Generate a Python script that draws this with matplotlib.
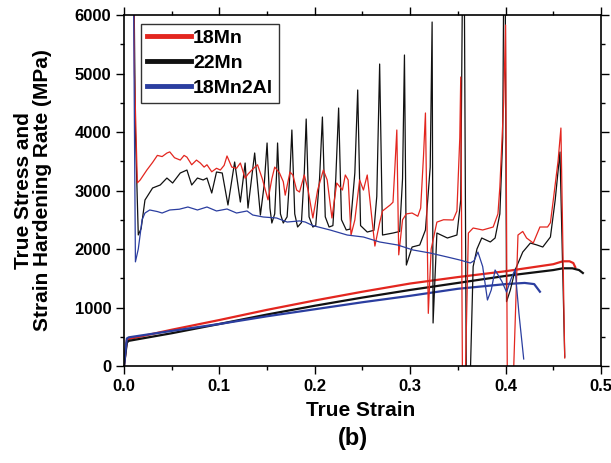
import matplotlib
matplotlib.use("Agg")
import matplotlib.pyplot as plt
from matplotlib.lines import Line2D
from matplotlib.ticker import MultipleLocator

plt.rcParams['font.family'] = ['Liberation Sans', 'DejaVu Sans']
plt.rcParams['font.weight'] = 'bold'

# true stress (flow) curves
red_flow_x = [0.0, 0.003, 0.005, 0.05, 0.1, 0.15, 0.2, 0.25, 0.3, 0.35, 0.4, 0.45, 0.46, 0.467, 0.471, 0.473]
red_flow_y = [0, 440, 460, 620, 786, 960, 1120, 1270, 1410, 1520, 1620, 1740, 1790, 1790, 1760, 1690]

black_flow_x = [0.0, 0.003, 0.005, 0.05, 0.1, 0.15, 0.2, 0.25, 0.3, 0.35, 0.4, 0.45, 0.46, 0.47, 0.477, 0.481]
black_flow_y = [0, 400, 430, 560, 718, 880, 1030, 1170, 1300, 1420, 1540, 1640, 1670, 1670, 1640, 1590]

blue_flow_x = [0.0, 0.003, 0.005, 0.05, 0.1, 0.15, 0.2, 0.25, 0.3, 0.35, 0.4, 0.42, 0.43, 0.436]
blue_flow_y = [0, 470, 490, 600, 718, 850, 970, 1090, 1200, 1320, 1400, 1420, 1400, 1270]

# strain hardening rate curves
red_hard_x = [0.009, 0.011, 0.014, 0.017, 0.024, 0.030, 0.035, 0.040, 0.045, 0.048,
              0.053, 0.059, 0.063, 0.066, 0.071, 0.076, 0.080, 0.084, 0.087, 0.092,
              0.097, 0.101, 0.105, 0.108, 0.113, 0.118, 0.122, 0.127, 0.130, 0.134,
              0.140, 0.145, 0.151, 0.155, 0.158, 0.163, 0.167, 0.169, 0.174, 0.177,
              0.181, 0.184, 0.189, 0.193, 0.198, 0.203, 0.209, 0.213, 0.218, 0.223,
              0.229, 0.232, 0.235, 0.238, 0.242, 0.247, 0.251, 0.255, 0.260, 0.263,
              0.268, 0.271, 0.279, 0.282, 0.284, 0.286, 0.288, 0.292, 0.296, 0.302,
              0.308, 0.311, 0.314, 0.316, 0.319, 0.322, 0.328, 0.335, 0.345, 0.349,
              0.352, 0.353, 0.355, 0.357, 0.361, 0.366, 0.376, 0.387, 0.392, 0.394,
              0.398, 0.400, 0.402, 0.407, 0.413, 0.418, 0.422, 0.429, 0.436, 0.444,
              0.447, 0.450, 0.455, 0.458, 0.462]
red_hard_y = [9000, 5000, 3130, 3180, 3350, 3480, 3600, 3580, 3640, 3660,
              3560, 3520, 3600, 3570, 3440, 3520, 3470, 3400, 3440, 3320,
              3380, 3350, 3430, 3590, 3400, 3380, 3470, 3210, 3280, 3350,
              3440, 3200, 2840, 3200, 3400, 3300, 3150, 2920, 3316, 3265,
              3008, 2974, 3265, 3008, 2530, 3008, 3350, 3180, 2530, 3128,
              3008, 3265, 3180, 2239, 2496, 3180, 3008, 3265, 2500, 2050,
              2450, 2650, 2752, 2800, 3400, 4034, 1900, 2500, 2600, 2615,
              2560, 2700, 3600, 4325, 900, 2000, 2460, 2500, 2496, 2650,
              3900, 4940, -800, -800, 2273, 2359, 2325, 2376, 2600, 3060,
              4500, 5829, -800, -800, 2239, 2300, 2188, 2102, 2376, 2376,
              2450, 2837, 3500, 4068, 137]

black_hard_x = [0.009, 0.012, 0.015, 0.018, 0.022, 0.030, 0.038, 0.045, 0.051, 0.059,
                0.066, 0.071, 0.077, 0.083, 0.087, 0.092, 0.097, 0.103, 0.109, 0.116,
                0.122, 0.127, 0.130, 0.137, 0.143, 0.147, 0.150, 0.153, 0.155, 0.158,
                0.160, 0.161, 0.164, 0.167, 0.171, 0.174, 0.176, 0.179, 0.182, 0.186,
                0.189, 0.191, 0.194, 0.198, 0.201, 0.205, 0.208, 0.211, 0.215, 0.219,
                0.222, 0.225, 0.228, 0.233, 0.237, 0.242, 0.245, 0.248, 0.255, 0.262,
                0.265, 0.268, 0.271, 0.282, 0.289, 0.292, 0.294, 0.296, 0.302, 0.310,
                0.316, 0.321, 0.323, 0.324, 0.328, 0.339, 0.349, 0.353, 0.356, 0.359,
                0.362, 0.366, 0.370, 0.375, 0.384, 0.389, 0.394, 0.397, 0.399, 0.401,
                0.405, 0.410, 0.418, 0.426, 0.433, 0.439, 0.447, 0.452, 0.457, 0.462]
black_hard_y = [9000, 4000, 2240, 2350, 2837, 3043, 3094, 3213, 3128, 3299,
                3350, 3094, 3213, 3180, 3213, 2957, 3316, 3299, 2752, 3487,
                2803, 3470, 2700, 3641, 2581, 3100, 3812, 2700, 2444, 2600,
                3300, 3812, 2600, 2444, 2550, 3300, 4034, 2600, 2376, 2450,
                3300, 4222, 2550, 2376, 2400, 3200, 4256, 2550, 2376, 2400,
                3200, 4410, 2500, 2325, 2340, 3300, 4718, 2400, 2290, 2320,
                2900, 5162, 2239, 2273, 2300, 3200, 5316, 1726, 2034, 2068,
                2325, 3400, 5880, 735, 2273, 2188, 2239, 2837, 9000, -800,
                -800, 1700, 2000, 2188, 2120, 2188, 2600, 3900, 9000, 1100,
                1300, 1640, 1948, 2102, 2068, 2034, 2205, 2837, 3658, 154]

blue_hard_x = [0.009, 0.011, 0.012, 0.015, 0.019, 0.022, 0.027, 0.035, 0.040, 0.048,
               0.058, 0.067, 0.077, 0.087, 0.097, 0.108, 0.118, 0.129, 0.135, 0.146,
               0.160, 0.171, 0.184, 0.190, 0.198, 0.216, 0.234, 0.251, 0.268, 0.287,
               0.303, 0.321, 0.339, 0.352, 0.363, 0.367, 0.371, 0.376, 0.381, 0.385,
               0.389, 0.396, 0.401, 0.406, 0.410, 0.414, 0.419]
blue_hard_y = [9000, 4000, 1780, 2000, 2500, 2615, 2667, 2640, 2615, 2667,
               2680, 2718, 2667, 2718, 2650, 2684, 2615, 2650, 2581, 2547,
               2530, 2461, 2480, 2461, 2400, 2325, 2239, 2205, 2120, 2068,
               1983, 1931, 1863, 1812, 1761, 1800, 1948, 1700, 1128, 1300,
               1641, 1450, 1265, 1500, 1650, 900, 120]

labels = ['18Mn', '22Mn', '18Mn2Al']
RED = '#e3261f'
BLACK = '#111111'
BLUE = '#2b3ea0'


def main():
    fig = plt.figure(figsize=(6.11, 4.63), dpi=100)
    ax = fig.add_axes([0.2029, 0.2095, 0.7807, 0.7581])

    ax.plot(red_flow_x, red_flow_y, color=RED, lw=1.6)
    ax.plot(black_flow_x, black_flow_y, color=BLACK, lw=1.6)
    ax.plot(blue_flow_x, blue_flow_y, color=BLUE, lw=1.6)

    ax.plot(black_hard_x, black_hard_y, color=BLACK, lw=0.9)
    ax.plot(red_hard_x, red_hard_y, color=RED, lw=0.9)
    ax.plot(blue_hard_x, blue_hard_y, color=BLUE, lw=0.9)

    ax.set_xlim(0, 0.5)
    ax.set_ylim(0, 6000)
    ax.xaxis.set_major_locator(MultipleLocator(0.1))
    ax.xaxis.set_minor_locator(MultipleLocator(0.05))
    ax.yaxis.set_major_locator(MultipleLocator(1000))
    ax.yaxis.set_minor_locator(MultipleLocator(500))
    ax.set_xticklabels(['%.1f' % v for v in ax.get_xticks()])

    ax.tick_params(which='both', direction='out', top=True, right=True, width=1.0)
    ax.tick_params(which='major', length=5.5, pad=3.5, labelsize=12)
    ax.tick_params(which='minor', length=3)
    for tl in ax.get_xticklabels() + ax.get_yticklabels():
        tl.set_fontweight('bold')
    for sp in ax.spines.values():
        sp.set_linewidth(1.2)

    ax.set_xlabel('True Strain', fontsize=15, fontweight='bold')
    ax.xaxis.set_label_coords(0.497, -0.10)
    ax.set_ylabel('True Stress and\nStrain Hardening Rate (MPa)', fontsize=15,
                  fontweight='bold', linespacing=1.0)
    ax.yaxis.set_label_coords(-0.151, 0.5)

    handles = [Line2D([], [], color=c, lw=3.5) for c in (RED, BLACK, BLUE)]
    leg = ax.legend(handles, labels, loc='upper left', bbox_to_anchor=(0.035, 0.975),
                    prop={'weight': 'bold', 'size': 14},
                    frameon=True, fancybox=False, edgecolor='black',
                    handlelength=2.3, handletextpad=0.1, labelspacing=0.38,
                    borderpad=0.3, borderaxespad=0)
    leg.get_frame().set_linewidth(1.0)

    fig.text(353 / 611, 1 - 438 / 463, '(b)', fontsize=17, fontweight='bold',
             ha='center', va='center')

    fig.savefig('out.png', dpi=100)


if __name__ == "__main__":
    main()
